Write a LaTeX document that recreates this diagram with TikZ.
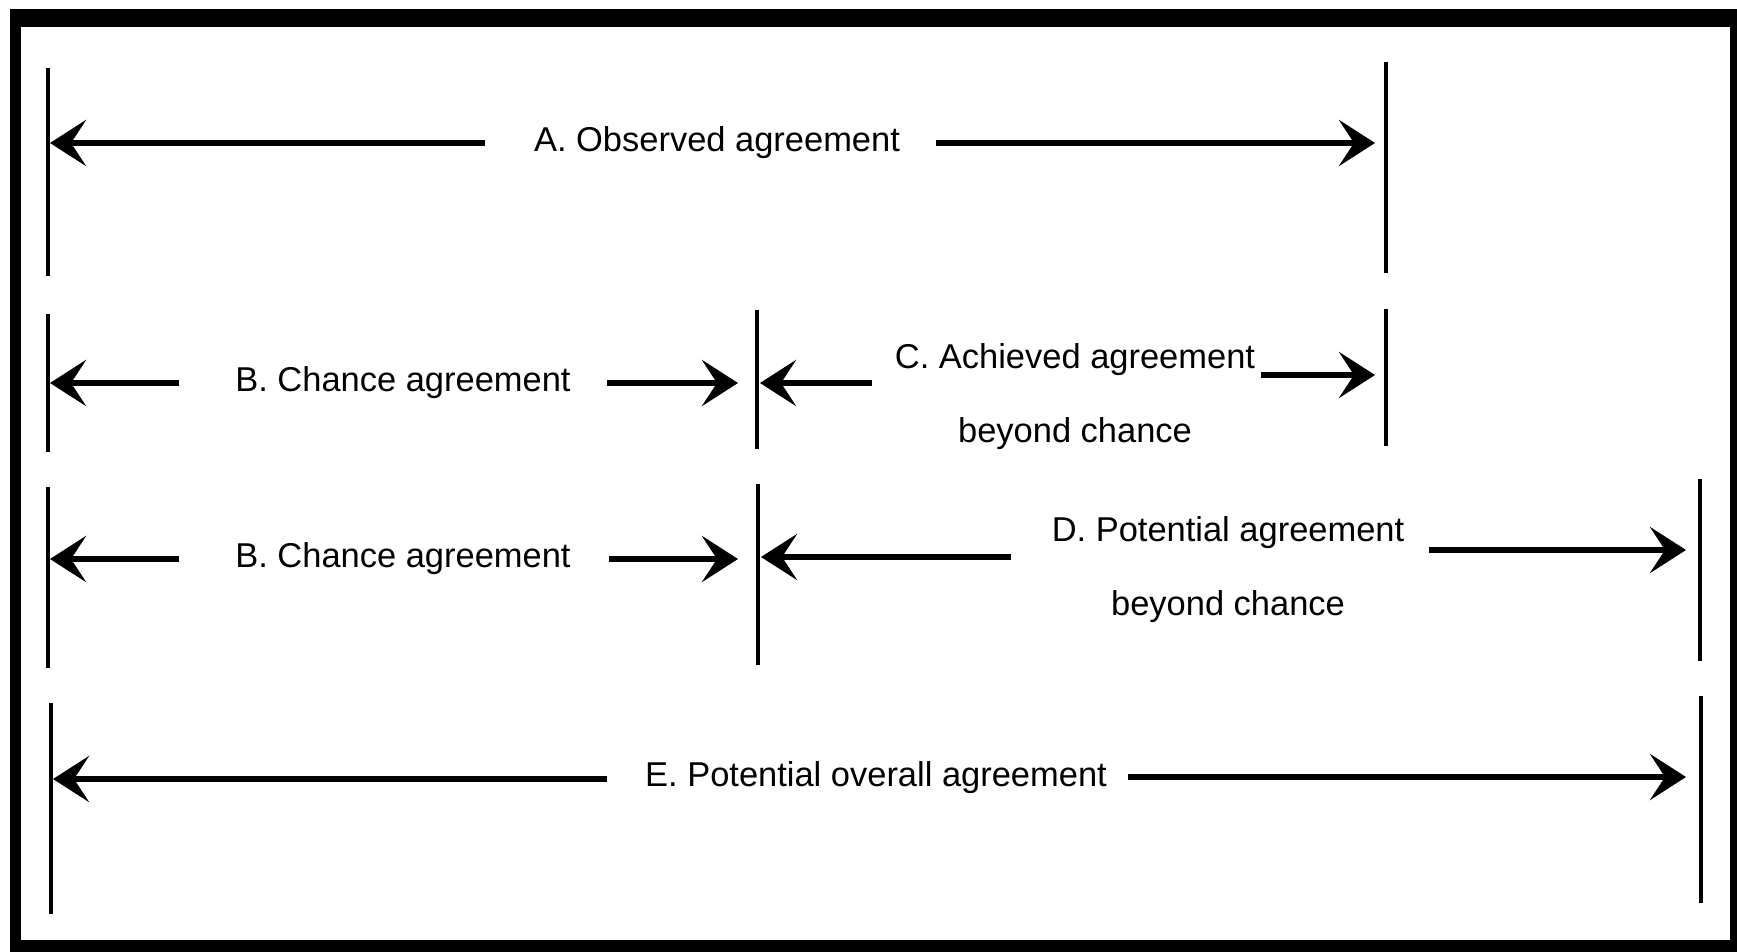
\documentclass[tikz,border=0pt]{standalone}
\usepackage{fontspec}
\setmainfont{Liberation Sans}
\usepackage{tikz}
\usetikzlibrary{arrows.meta}
\tikzstyle{bar}=[line width=1.3pt]
\tikzstyle{dim}=[draw, line width=1.7pt, -{Stealth[length=0.36cm, width=0.46cm, inset=0.15cm]}]
\tikzstyle{lbl}=[inner sep=0pt, align=center, font=\fontsize{9.8}{21}\selectfont]
\newcommand{\lbl}{\node[lbl]}

\begin{document}
\begin{tikzpicture}[x=0.01cm, y=-0.01cm]
	\useasboundingbox (0,0) rectangle (1737,952);
	%% the heavy black frame round the whole figure
	\fill (10,9) rectangle (1737,952);
	\fill[white] (21,27) rectangle (1730,940);
	%% the vertical end bars, x / top / bottom
	\foreach \x/\ya/\yb in {48/68/276, 1386/62/273, 48/314/452, 757/310/449, 1386/309/446,
	                        48/487/668, 758/484/665, 1700/479/661, 51/703/914, 1701/696/903}
		\draw[bar] (\x,\ya) -- (\x,\yb);
	%% the labels
	\lbl (obs) at (717,143) {A. Observed agreement};
	\lbl (chA) at (403,383) {B. Chance agreement};
	\lbl (ach) at (1075,397) {C. Achieved agreement\\beyond chance};
	\lbl (chB) at (403,559) {B. Chance agreement};
	\lbl (pot) at (1228,570) {D. Potential agreement\\beyond chance};
	\lbl (all) at (876,778) {E. Potential overall agreement};
	%% free ends of the arrows: start next to a label, tip at a bar
	\coordinate (obs1) at (485,143);  \coordinate (obs2) at (50,143);
	\coordinate (obs3) at (936,143);  \coordinate (obs4) at (1375,143);
	\coordinate (chA1) at (179,383);  \coordinate (chA2) at (50,383);
	\coordinate (chA3) at (607,383);  \coordinate (chA4) at (738,383);
	\coordinate (ach1) at (872,383);  \coordinate (ach2) at (760,383);
	\coordinate (ach3) at (1261,375); \coordinate (ach4) at (1375,375);
	\coordinate (chB1) at (179,559);  \coordinate (chB2) at (50,559);
	\coordinate (chB3) at (609,559);  \coordinate (chB4) at (738,559);
	\coordinate (pot1) at (1011,557); \coordinate (pot2) at (761,557);
	\coordinate (pot3) at (1429,550); \coordinate (pot4) at (1686,550);
	\coordinate (all1) at (607,779);  \coordinate (all2) at (53,779);
	\coordinate (all3) at (1128,777); \coordinate (all4) at (1686,777);
	\path
		(obs1) edge[dim] (obs2)
		(obs3) edge[dim] (obs4)
		(chA1) edge[dim] (chA2)
		(chA3) edge[dim] (chA4)
		(ach1) edge[dim] (ach2)
		(ach3) edge[dim] (ach4)
		(chB1) edge[dim] (chB2)
		(chB3) edge[dim] (chB4)
		(pot1) edge[dim] (pot2)
		(pot3) edge[dim] (pot4)
		(all1) edge[dim] (all2)
		(all3) edge[dim] (all4)
	;
\end{tikzpicture}
\end{document}
